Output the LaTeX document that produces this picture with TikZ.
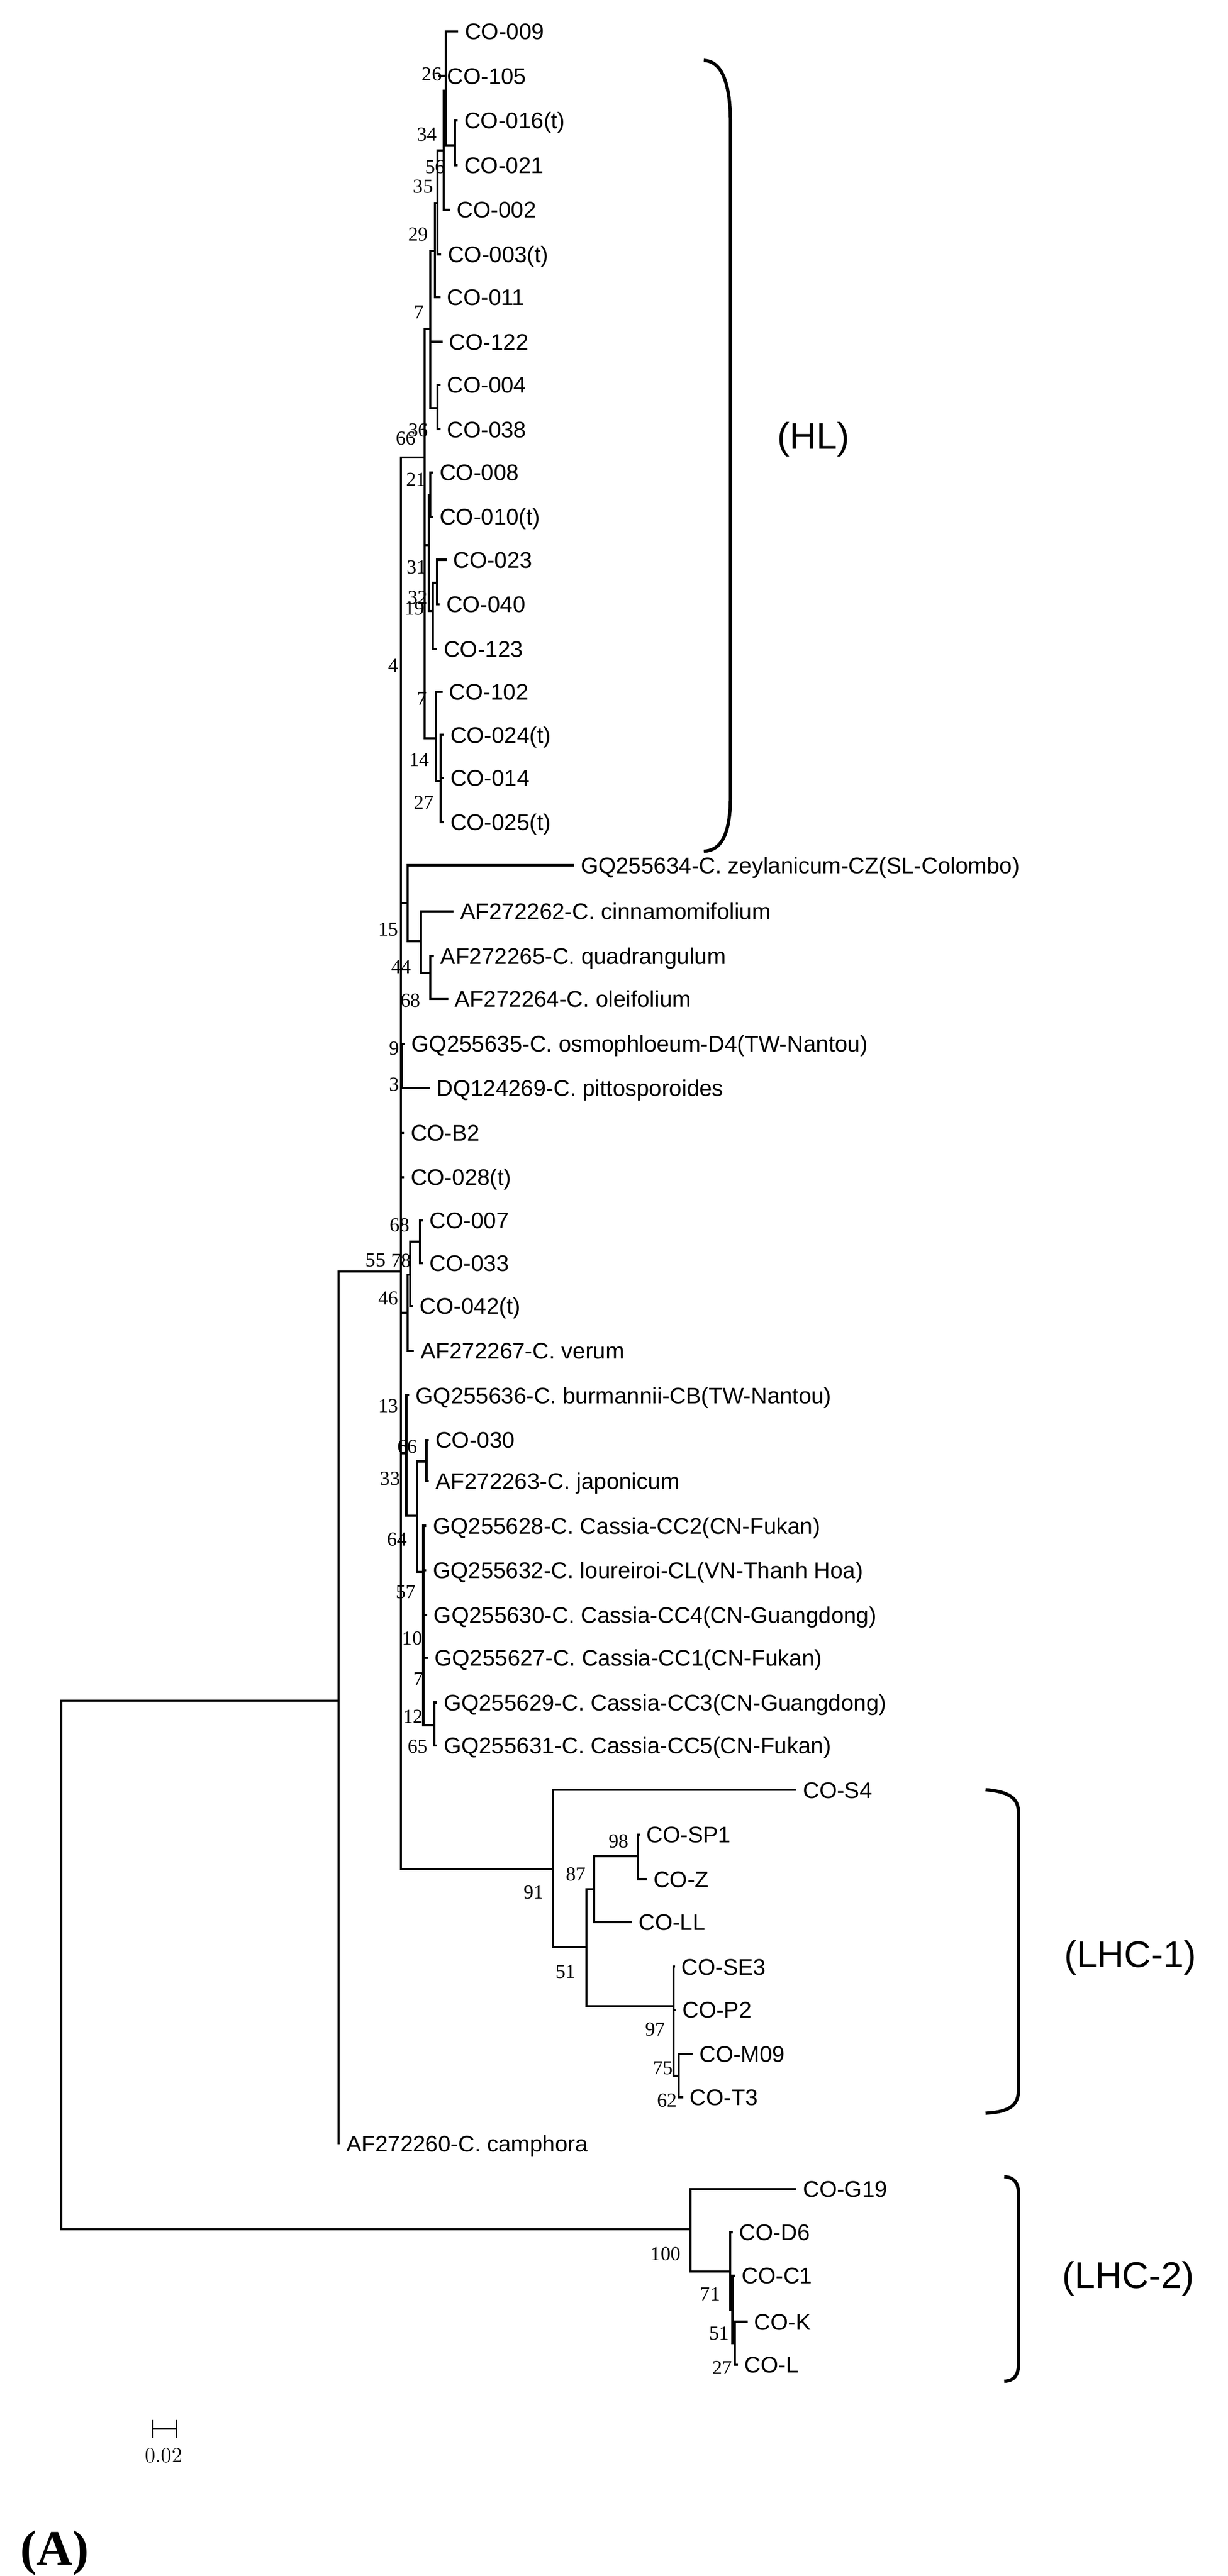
\documentclass[tikz,border=0pt]{standalone}
\usepackage{fontspec}
\newfontfamily\taxonfont{Liberation Sans}
\newfontfamily\bootfont{Liberation Serif}
\usetikzlibrary{positioning}
\tikzset{
  branch/.style={
    % The line:
    line width=1.3pt,
    line cap=rect,
    draw=black},
  leaf/.style={
    % The text:
    anchor=base west,
    inner sep=0pt,
    xshift=4.5pt,
    yshift=-4.9pt,
    font=\taxonfont\fontsize{13.7}{15}\selectfont},
  boot/.style={
    inner sep=0pt,
    font=\bootfont\fontsize{12}{13}\selectfont},
  clade/.style={
    % The bracket:
    line width=2pt,
    draw=black},
  cladename/.style={
    inner sep=0pt,
    font=\taxonfont\fontsize{22.5}{24}\selectfont}
}

\begin{document}
\begin{tikzpicture}[x=1pt,y=-1pt]
  \useasboundingbox (0,0) rectangle (743.3,1560);

  % internal nodes
  \foreach \n/\x/\y in {r/37/1190, A/205/1030, C/242.8/770, L2/418/1350,
      HL/257/277, H1/260.5/199, P35/263.4/152, R/265/123, S/268.7/91, T/270/55,
      U/275.4/88, Q/265/247, H2/259.5/330, Y/260.5/300, Z2/262/370, AA/264.5/353,
      H3/263.9/447, BB/266.8/473,
      N15/246.7/547, Z1/254.9/570, Z2b/260.6/589, N9/243.4/645,
      N46/246.7/795, W/248.4/772, X/254.2/752,
      N13/246/880, J/252.3/918, K/258.2/885, Cas/256.3/952, M/263/1045,
      L1/334.7/1132, L1b/355/1179, L1c/359.8/1144, L1e/386.3/1124,
      L1d/407.7/1215, L1f/411/1257,
      L2b/442/1375.5, L2c/443.5/1399, L2d/445/1419}
    \coordinate (\n) at (\x,\y);

  % leaves
  \foreach \n/\x/\y/\t in {
      t009/276.8/19/CO-009, t105/266/46/CO-105, t016/276.5/73/CO-016(t),
      t021/276.5/100/CO-021, t002/272/127/CO-002, t003/266.5/154/CO-003(t),
      t011/266/180/CO-011, t122/267.3/207/CO-122, t004/266/233/CO-004,
      t038/266/260/CO-038, t008/261.5/286/CO-008, t010/261.5/313/CO-010(t),
      t023/269.7/339/CO-023, t040/265.5/366/CO-040, t123/264/393/CO-123,
      t102/267.3/419/CO-102, t024/268/445/CO-024(t), t014/268/471/CO-014,
      t025/268/498/CO-025(t),
      tzey/347/524/GQ255634-C. zeylanicum-CZ(SL-Colombo),
      t262/274/552/AF272262-C. cinnamomifolium,
      t265/262/579/AF272265-C. quadrangulum,
      t264/270.7/605/AF272264-C. oleifolium,
      t635/244.5/632/GQ255635-C. osmophloeum-D4(TW-Nantou),
      t269/259.7/659/DQ124269-C. pittosporoides,
      tB2/244/686/CO-B2, t028/244/713/CO-028(t),
      t007/255.5/739/CO-007, t033/255.5/765/CO-033, t042/249.5/791/CO-042(t),
      t267/250/818/AF272267-C. verum,
      t636/247/845/GQ255636-C. burmannii-CB(TW-Nantou),
      t030/259/872/CO-030, t263/259/897/AF272263-C. japonicum,
      t628/257.5/924/GQ255628-C. Cassia-CC2(CN-Fukan),
      t632/257.5/951/GQ255632-C. loureiroi-CL(VN-Thanh Hoa),
      t630/258/978/GQ255630-C. Cassia-CC4(CN-Guangdong),
      t627/258.5/1004/GQ255627-C. Cassia-CC1(CN-Fukan),
      t629/264/1031/GQ255629-C. Cassia-CC3(CN-Guangdong),
      t631/264/1057/GQ255631-C. Cassia-CC5(CN-Fukan),
      tS4/481.5/1084/CO-S4, tSP1/386.8/1111/CO-SP1, tZ/391/1138/CO-Z,
      tLL/382/1164/CO-LL, tSE3/408/1191/CO-SE3, tP2/408.5/1217/CO-P2,
      tM09/418.8/1244/CO-M09, tT3/413/1270/CO-T3,
      tcamph/205/1298/AF272260-C. camphora,
      tG19/481.5/1325.7/CO-G19, tD6/443/1351.7/CO-D6, tC1/444.5/1378/CO-C1,
      tK/452/1406/CO-K, tL/446/1432/CO-L}
  {
    \coordinate (\n) at (\x,\y);
    \node[leaf] (\n-l) at (\n) {\t};
  }

  % branches
  \foreach \p/\c in {r/A, r/L2, A/C, A/tcamph,
      C/HL, C/N15, C/N9, C/tB2, C/t028, C/N46, C/N13, C/L1,
      HL/H1, HL/H2, HL/H3, H1/P35, H1/t122, H1/Q, P35/R, P35/t011,
      R/S, R/t003, S/T, S/t002, T/t009, T/t105, T/U, U/t016, U/t021,
      Q/t004, Q/t038, H2/Y, H2/Z2, Y/t008, Y/t010, Z2/AA, Z2/t123,
      AA/t023, AA/t040, H3/t102, H3/BB, BB/t024, BB/t014, BB/t025,
      N15/tzey, N15/Z1, Z1/t262, Z1/Z2b, Z2b/t265, Z2b/t264,
      N9/t635, N9/t269, N46/W, N46/t267, W/X, W/t042, X/t007, X/t033,
      N13/t636, N13/J, J/K, J/Cas, K/t030, K/t263,
      Cas/t628, Cas/t632, Cas/t630, Cas/t627, Cas/M, M/t629, M/t631,
      L1/tS4, L1/L1b, L1b/L1c, L1b/L1d, L1c/L1e, L1c/tLL,
      L1e/tSP1, L1e/tZ, L1d/tSE3, L1d/tP2, L1d/L1f, L1f/tM09, L1f/tT3,
      L2/tG19, L2/L2b, L2b/tD6, L2b/L2c, L2c/tC1, L2c/L2d, L2d/tK, L2d/tL}
    \draw[branch] (\p) |- (\c);

  % bootstrap values
  \foreach \v/\x/\y [count=\k] in {26/261.5/44.8, 34/258.6/81.3, 56/263.4/101,
      35/256.2/112.9, 29/253.3/142, 7/253.8/189, 36/253.3/260.6, 66/245.7/265.6,
      21/251.9/290.5, 31/252.4/343.6, 32/252.9/362, 19/251/368.5, 4/238/403,
      7/255.7/423, 14/253.8/460, 27/256.7/486,
      15/235.2/562.7, 44/242.9/585.6, 68/248.6/606, 9/238.6/634.8, 3/238.6/656.7,
      68/241.9/742, 55/227.5/763.3, 78/242.9/763.3, 46/235.2/786.2,
      13/235.2/851.3, 66/246.7/876, 33/236.2/895.3, 64/240.5/932.3,
      57/245.8/964, 10/249.6/992, 7/253.4/1016.8, 12/250/1039.6, 65/252.8/1057.8,
      98/374.5/1115, 87/348.7/1135, 91/323/1146, 51/342.4/1194,
      97/396.7/1229, 75/401.5/1252.5, 62/404/1272,
      100/403/1365, 71/430/1389.4, 51/435.4/1413, 27/437.3/1434}
    \node[boot] (bs\k) at (\x,\y) {\v};

  % clade brackets
  \draw[clade] (426.1,36.6) .. controls (437,37) and (442.3,50) .. (442.3,75.6)
    -- (442.3,481) .. controls (442.3,505) and (437,515) .. (426.1,515.5);
  \draw[clade] (596.7,1083.8) .. controls (611,1085) and (616.6,1089) .. (616.6,1097.4)
    -- (616.6,1266) .. controls (616.6,1275) and (611,1279) .. (596.7,1279.7);
  \draw[clade] (608,1318.2) .. controls (614,1318.5) and (616.6,1322) .. (616.6,1328)
    -- (616.6,1432.2) .. controls (616.6,1438) and (614,1442) .. (608,1442);
  \node[cladename] (hl) at (492.4,266) {(HL)};
  \node[cladename] (lhc1) at (684.3,1185.5) {(LHC-1)};
  \node[cladename] (lhc2) at (683.2,1380) {(LHC-2)};

  % scale bar
  \coordinate (sb1) at (92.4,1471);
  \coordinate (sb2) at (106.8,1471);
  \draw[line width=1pt] (sb1) -- (sb2);
  \draw[line width=1pt] ([yshift=5.5pt]sb1) -- ([yshift=-5.5pt]sb1);
  \draw[line width=1pt] ([yshift=5.5pt]sb2) -- ([yshift=-5.5pt]sb2);
  \node[inner sep=0pt,font=\fontsize{13}{14}\selectfont] (sbl) at (99,1487) {0.02};

  \node[inner sep=0pt,font=\bootfont\bfseries\fontsize{30}{32}\selectfont] (panel) at (33,1546) {(A)};
\end{tikzpicture}
\end{document}
